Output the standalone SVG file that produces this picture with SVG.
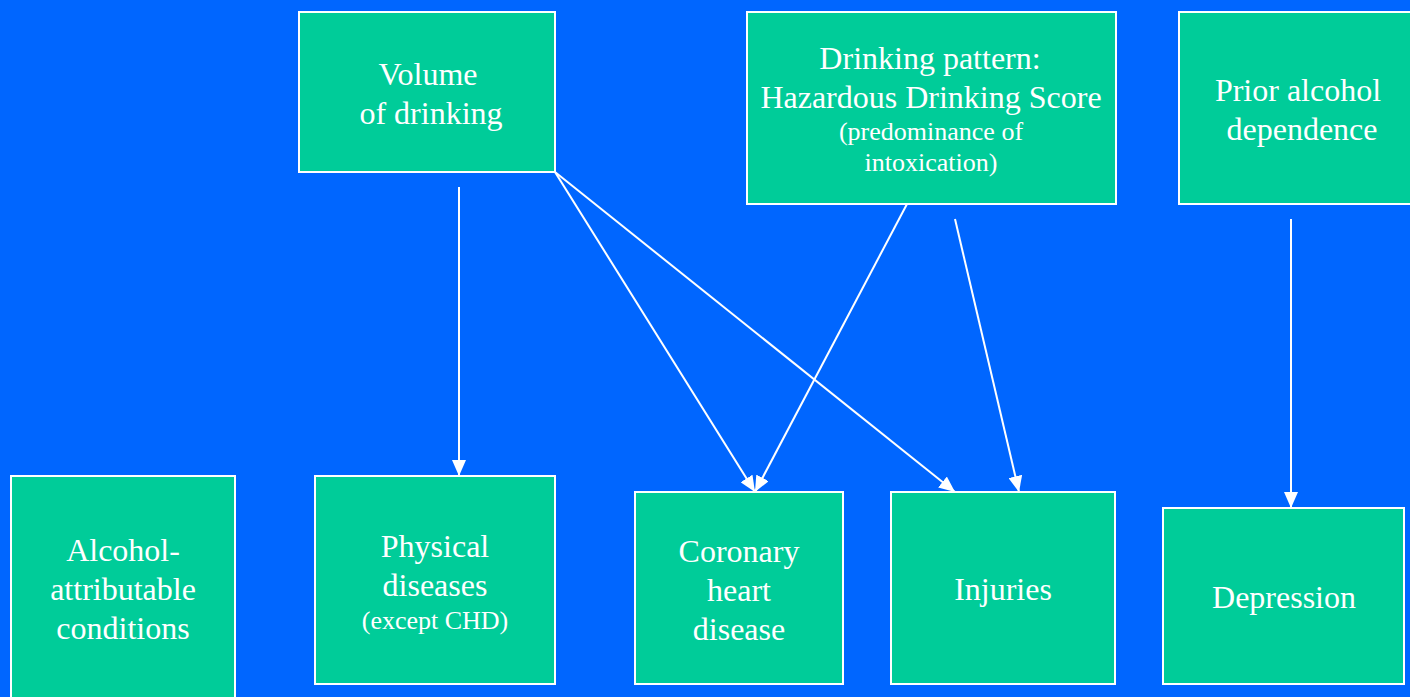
<svg xmlns="http://www.w3.org/2000/svg" width="1410" height="697" viewBox="0 0 1410 697">
<defs>
<style>
.box{fill:#00CC99;stroke:#FFFFFF;stroke-width:2}
.t{font-family:"Liberation Serif","Times New Roman",serif;fill:#FFFFFF;text-anchor:middle;font-size:32px}
.s{font-size:26px}
</style>
<marker id="ah2" viewBox="0 0 16 14" refX="16" refY="7" markerWidth="16" markerHeight="14" markerUnits="userSpaceOnUse" orient="auto">
<path d="M0,0 L16,7 L0,14 Z" fill="#FFFFFF"/>
</marker>
</defs>
<rect width="1410" height="697" fill="#0066FF"/>
<g id="connectors" stroke="#FFFFFF" stroke-width="2" marker-end="url(#ah2)">
<line x1="459" y1="187" x2="459" y2="476"/>
<line x1="555" y1="172" x2="755" y2="492"/>
<line x1="555" y1="172" x2="955" y2="492"/>
<line x1="907" y1="204" x2="755" y2="492"/>
<line x1="955" y1="219" x2="1019" y2="492"/>
<line x1="1291" y1="219" x2="1291" y2="508"/>
</g>
<g id="volume">
<rect class="box" x="299" y="12" width="256" height="160"/>
<text class="t" x="428" y="85">Volume</text>
<text class="t" x="431" y="124">of drinking</text>
</g>
<g id="pattern">
<rect class="box" x="747" y="12" width="369" height="192"/>
<text class="t" x="930" y="69">Drinking pattern:</text>
<text class="t" x="931" y="108">Hazardous Drinking Score</text>
<text class="t s" x="931" y="140">(predominance of</text>
<text class="t s" x="931" y="171">intoxication)</text>
</g>
<g id="prior">
<rect class="box" x="1179" y="12" width="240" height="192"/>
<text class="t" x="1298" y="101">Prior alcohol</text>
<text class="t" x="1302" y="140">dependence</text>
</g>
<g id="attributable">
<rect class="box" x="11" y="476" width="224" height="230"/>
<text class="t" x="123" y="561">Alcohol-</text>
<text class="t" x="123" y="600">attributable</text>
<text class="t" x="123" y="639">conditions</text>
</g>
<g id="physical">
<rect class="box" x="315" y="476" width="240" height="208"/>
<text class="t" x="435" y="557">Physical</text>
<text class="t" x="435" y="596">diseases</text>
<text class="t s" x="435" y="629">(except CHD)</text>
</g>
<g id="chd">
<rect class="box" x="635" y="492" width="208" height="192"/>
<text class="t" x="739" y="562">Coronary</text>
<text class="t" x="739" y="601">heart</text>
<text class="t" x="739" y="640">disease</text>
</g>
<g id="injuries">
<rect class="box" x="891" y="492" width="224" height="192"/>
<text class="t" x="1003" y="600">Injuries</text>
</g>
<g id="depression">
<rect class="box" x="1163" y="508" width="241" height="176"/>
<text class="t" x="1284" y="608">Depression</text>
</g>
</svg>
